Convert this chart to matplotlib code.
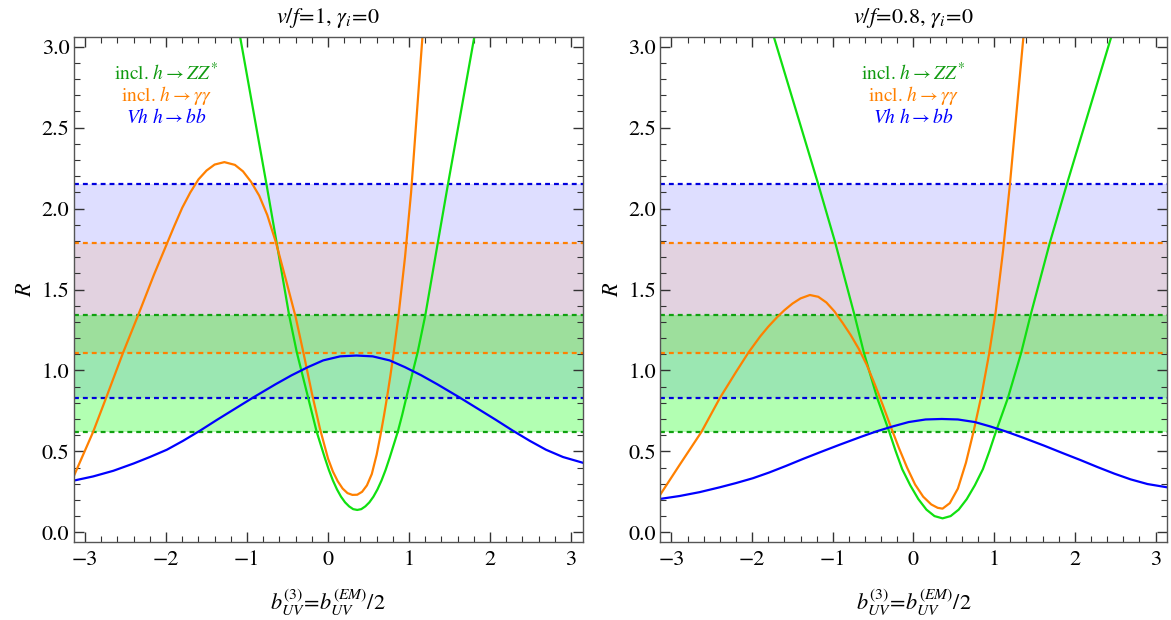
import numpy as np
import matplotlib
matplotlib.use("Agg")
from matplotlib import pyplot as plt

plt.rcParams['font.family'] = ['STIXGeneral', 'DejaVu Serif']
plt.rcParams['mathtext.fontset'] = 'stix'

# bands (lower, upper)
band_zz = (0.62, 1.34)
band_aa = (1.11, 1.79)
band_bb = (0.83, 2.15)

# v/f = 1 panel
zz1_x = [-1.12, -1.085, -0.76, -0.635, -0.48, -0.385, -0.245, -0.14, -0.09, -0.04, 0.01, 0.06, 0.11,
         0.16, 0.21, 0.26, 0.31, 0.36, 0.41, 0.46, 0.51, 0.56, 0.61, 0.66, 0.71, 0.76, 0.81, 0.86,
         0.915, 0.965, 1.035, 1.105, 1.20, 1.355, 1.48, 1.805, 1.84]
zz1_y = [3.16, 3.06, 2.15, 1.79, 1.34, 1.11, 0.83, 0.62, 0.54, 0.46, 0.385, 0.32, 0.265,
         0.22, 0.185, 0.16, 0.143, 0.138, 0.143, 0.16, 0.185, 0.22, 0.265, 0.32, 0.385, 0.46, 0.54, 0.62,
         0.725, 0.83, 0.97, 1.11, 1.34, 1.79, 2.15, 3.06, 3.16]
aa1_x = [-3.1416, -2.90, -2.74, -2.53, -2.345, -2.15, -2.0, -1.9, -1.8, -1.7, -1.6, -1.5, -1.4, -1.28,
         -1.15, -1.05, -0.95, -0.85, -0.75, -0.643, -0.52, -0.40, -0.30, -0.20, -0.10, 0.0, 0.06,
         0.12, 0.18, 0.24, 0.30, 0.36, 0.42, 0.48, 0.54, 0.60, 0.645, 0.69, 0.73, 0.77, 0.81, 0.87,
         0.95, 1.025, 1.165, 1.19]
aa1_y = [0.343, 0.62, 0.83, 1.11, 1.34, 1.59, 1.77, 1.89, 2.005, 2.10, 2.18, 2.235, 2.272, 2.287,
         2.27, 2.23, 2.165, 2.08, 1.96, 1.79, 1.56, 1.33, 1.10, 0.86, 0.64, 0.455, 0.375,
         0.315, 0.27, 0.242, 0.231, 0.232, 0.25, 0.29, 0.36, 0.48, 0.595, 0.72, 0.84, 0.97, 1.11, 1.34,
         1.70, 2.10, 3.06, 3.2]
bb1_x = [-3.1416, -2.90, -2.65, -2.40, -2.20, -1.99, -1.79, -1.58, -1.37, -1.15, -0.92, -0.65, -0.45,
         -0.25, -0.06, 0.15, 0.35, 0.55, 0.76, 0.95, 1.15, 1.35, 1.62, 1.85, 2.07, 2.28, 2.49, 2.69,
         2.90, 3.1416]
bb1_y = [0.319, 0.345, 0.38, 0.425, 0.465, 0.51, 0.565, 0.628, 0.695, 0.763, 0.834, 0.914, 0.97,
         1.02, 1.062, 1.087, 1.092, 1.087, 1.062, 1.02, 0.97, 0.914, 0.834, 0.763, 0.695, 0.628, 0.565,
         0.51, 0.465, 0.43]

# v/f = 0.8 panel
zz2_x = [-1.77, -1.73, -1.18, -0.97, -0.73, -0.615, -0.45, -0.30, -0.22, -0.14, -0.04, 0.06, 0.16, 0.26,
         0.36, 0.46, 0.56, 0.66, 0.76, 0.86, 0.94, 1.02, 1.17, 1.335, 1.45, 1.69, 1.90, 2.45, 2.49]
zz2_y = [3.16, 3.06, 2.15, 1.79, 1.34, 1.11, 0.83, 0.62, 0.50, 0.39, 0.29, 0.205, 0.14, 0.10,
         0.086, 0.10, 0.14, 0.205, 0.29, 0.39, 0.50, 0.62, 0.83, 1.11, 1.34, 1.79, 2.15, 3.06, 3.16]
aa2_x = [-3.1416, -2.90, -2.628, -2.399, -2.2, -2.046, -1.9, -1.8, -1.688, -1.6, -1.5, -1.4, -1.284,
         -1.18, -1.08, -0.98, -0.88, -0.78, -0.68, -0.58, -0.48, -0.38, -0.28, -0.18, -0.08, 0.02,
         0.12, 0.22, 0.30, 0.36, 0.45, 0.55, 0.65, 0.743, 0.844, 0.936, 1.018, 1.11, 1.193, 1.362, 1.40]
aa2_y = [0.23, 0.415, 0.62, 0.83, 0.99, 1.11, 1.21, 1.27, 1.33, 1.372, 1.413, 1.445, 1.466,
         1.455, 1.42, 1.365, 1.295, 1.22, 1.135, 1.035, 0.915, 0.785, 0.65, 0.52, 0.40, 0.295,
         0.22, 0.172, 0.151, 0.146, 0.18, 0.27, 0.43, 0.62, 0.85, 1.10, 1.36, 1.74, 2.14, 3.06, 3.2]
bb2_x = [-3.1416, -2.90, -2.65, -2.40, -2.20, -1.99, -1.79, -1.58, -1.37, -1.15, -0.92, -0.65, -0.45,
         -0.25, -0.06, 0.15, 0.35, 0.55, 0.76, 0.95, 1.15, 1.35, 1.62, 1.85, 2.07, 2.28, 2.49, 2.69,
         2.90, 3.1416]
bb2_y = [0.206, 0.224, 0.248, 0.278, 0.304, 0.334, 0.369, 0.41, 0.453, 0.496, 0.54, 0.59, 0.625,
         0.655, 0.681, 0.697, 0.70, 0.697, 0.681, 0.654, 0.622, 0.586, 0.535, 0.489, 0.446, 0.403, 0.362,
         0.327, 0.298, 0.278]

titles = [r'$v/f\!=\!1$, $\gamma_i\!=\!0$', r'$v/f\!=\!0.8$, $\gamma_i\!=\!0$']
legend_x = [-2.0, 0.0]

green, orange, blue = '#10e010', '#ff8000', '#0000ff'

fig = plt.figure(figsize=(11.71, 6.2), dpi=100)
axes = [fig.add_axes([0.0628, 0.1253, 0.4347, 0.815]),
        fig.add_axes([0.5636, 0.1253, 0.4330, 0.815])]
panels = [(zz1_x, zz1_y, aa1_x, aa1_y, bb1_x, bb1_y),
          (zz2_x, zz2_y, aa2_x, aa2_y, bb2_x, bb2_y)]

for i, ax in enumerate(axes):
    zx, zy, ox, oy, bx, by = panels[i]
    ax.axhspan(*band_bb, color=(0, 0, 1), alpha=0.13, lw=0)
    ax.axhspan(*band_aa, color=(1, 0.5, 0), alpha=0.12, lw=0)
    ax.axhspan(*band_zz, color=(0, 1, 0), alpha=0.3, lw=0)
    for lo_hi, c in [(band_bb, '#0000dd'), (band_aa, '#ff8000'), (band_zz, '#10a010')]:
        for v in lo_hi:
            ax.axhline(v, color=c, lw=1.6, ls=(0, (2.2, 1.8)))
    ax.plot(zx, zy, color=green, lw=1.6, solid_joinstyle='round')
    ax.plot(ox, oy, color=orange, lw=1.6, solid_joinstyle='round')
    ax.plot(bx, by, color=blue, lw=1.6, solid_joinstyle='round')

    ax.set_xlim(-np.pi, np.pi)
    ax.set_ylim(-0.062, 3.06)
    ax.set_xticks([-3, -2, -1, 0, 1, 2, 3])
    ax.set_xticklabels(['\u22123', '\u22122', '\u22121', '0', '1', '2', '3'])
    ax.set_xticks(np.arange(-3.0, 3.01, 0.2), minor=True)
    ax.set_yticks([0.0, 0.5, 1.0, 1.5, 2.0, 2.5, 3.0])
    ax.set_yticklabels(['0.0', '0.5', '1.0', '1.5', '2.0', '2.5', '3.0'])
    ax.set_yticks(np.arange(0.0, 3.01, 0.1), minor=True)
    ax.tick_params(which='both', direction='in', top=True, right=True, labelsize=16, colors='#333333',
                   labelcolor='black')
    ax.tick_params(which='major', length=7, width=1)
    ax.tick_params(which='minor', length=4, width=0.8)
    ax.tick_params(axis='x', pad=6)
    ax.tick_params(axis='y', pad=3)
    for s in ax.spines.values():
        s.set_color('#555555')
        s.set_linewidth(1.0)

    ax.set_title(titles[i], fontsize=16, pad=10)
    ax.set_xlabel(r'$b_{UV}^{(3)}\!=\!b_{UV}^{(EM)}/2$', fontsize=16, labelpad=12)
    ax.set_ylabel(r'$R$', fontsize=16, labelpad=4)

    lx = legend_x[i]
    ax.text(lx, 2.84, r'incl. $h\rightarrow ZZ^{*}$', color='#109a10', fontsize=14, ha='center', va='center')
    ax.text(lx, 2.70, r'incl. $h\rightarrow \gamma\gamma$', color=orange, fontsize=14, ha='center', va='center')
    ax.text(lx, 2.56, r'$Vh\ h\rightarrow bb$', color=blue, fontsize=14, ha='center', va='center')

fig.savefig('out.png', dpi=100)
